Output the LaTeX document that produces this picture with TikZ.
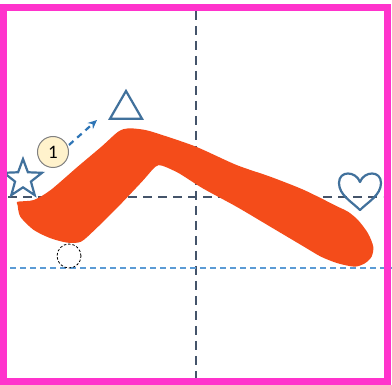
\documentclass[tikz,border=0pt]{standalone}
\usepackage{fontspec}
\setmainfont{Carlito}
\usetikzlibrary{shapes.geometric,arrows.meta}
\definecolor{magentab}{HTML}{FF33CC}
\definecolor{slateline}{HTML}{44546A}
\definecolor{lightblue}{HTML}{5B9BD5}
\definecolor{arrowblue}{HTML}{2E75B6}
\definecolor{iconblue}{HTML}{41719C}
\definecolor{strokeorange}{HTML}{F44C1A}
\definecolor{cream}{HTML}{FFF2CC}
\tikzset{
  guidedark/.style={draw=slateline, line width=2.6pt, dash pattern=on 9pt off 6pt},
  guidelight/.style={draw=lightblue, line width=1.6pt, dash pattern=on 6pt off 4pt},
  iconline/.style={draw=iconblue, line width=2.2pt, fill=none},
  badge/.style={circle, draw=gray, line width=1pt, fill=cream, minimum size=31pt, inner sep=0pt, font=\fontsize{19}{19}\selectfont},
}
\begin{document}
\begin{tikzpicture}[x=1pt,y=-1pt]
\useasboundingbox (0,0) rectangle (392,385);
\fill[white] (0,0) rectangle (392,385);
% guide lines
\draw[guidedark] (196,11) -- (196,385);
\draw[guidedark] (8,197) -- (383,197);
\draw[guidelight] (10,268) -- (392,268);
% orange stroke
\fill[strokeorange] plot[smooth cycle, tension=0.45] coordinates {
 (17.6,201.7) (33.8,200) (50.7,190) (77.7,166.7) (101.4,146.7) (118.2,131.7)
 (128.4,128.3) (145.3,130) (162.2,135) (196,146.7) (236.5,165) (270.3,176.7)
 (304,190) (337.8,206.7) (348,211.7) (358,220) (368,233.3) (373.3,246.7)
 (371.6,256.7) (364.9,263.3) (354.7,266.7) (337.8,263.3) (321,256.7) (304,246.7)
 (270.3,226.7) (236.5,206.7) (202.7,188.3) (179,173.3) (162.2,165.7) (155.4,166.7)
 (141.9,181.7) (118.2,206.7) (94.6,230) (81,241.7) (67.6,242.7) (50.7,238.3)
 (33.8,230) (20.3,216.7) (17.6,205)};
% icons
\node[star, star points=5, star point ratio=2.4, minimum size=40pt, inner sep=0pt, iconline] (star) at (23,179) {};
\node[regular polygon, regular polygon sides=3, minimum size=37pt, inner sep=0pt, iconline] (tri) at (126,109.5) {};
\draw[iconline, line join=round] (360,182) .. controls (356,171) and (339,170) .. (339,183)
  .. controls (339,195) and (352,202) .. (360,210)
  .. controls (368,202) and (381,195) .. (381,183)
  .. controls (381,170) and (364,171) .. (360,182) -- cycle;
\node[circle, draw=black, line width=0.8pt, dash pattern=on 2.5pt off 1.8pt, minimum size=24pt, inner sep=0pt] (dot) at (69,256) {};
% badge and arrow
\node[badge] (one) at (53,152) {1};
\coordinate (a1) at (69,145);
\coordinate (a2) at (97,120);
\draw[arrowblue, line width=2.2pt, dash pattern=on 6pt off 5pt, -{Stealth[length=9pt,width=8pt]}] (a1) -- (a2);
% border
\draw[magentab, line width=7pt] (3.5,7.5) rectangle (387.5,382);
\end{tikzpicture}
\end{document}
